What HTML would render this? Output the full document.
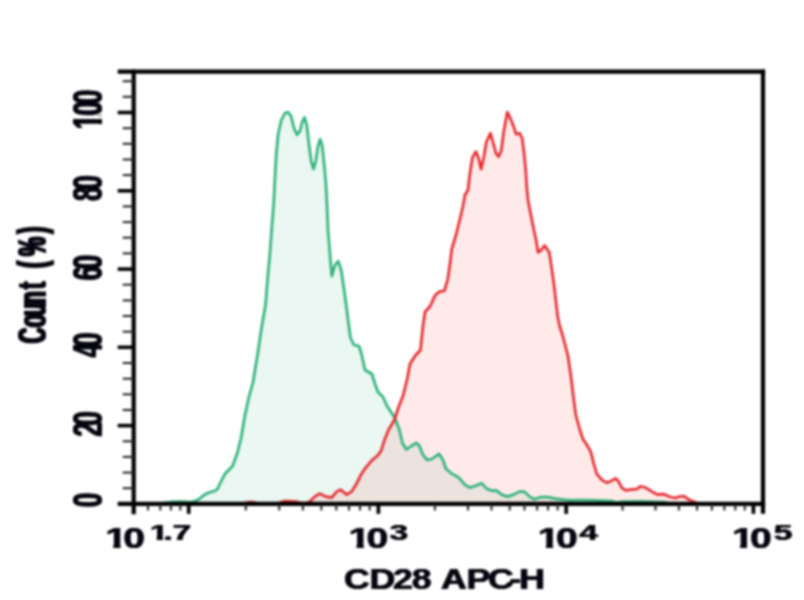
<!DOCTYPE html>
<html lang="en"><head><meta charset="utf-8"><title>CD28 APC-H histogram</title>
<style>
html,body{margin:0;padding:0;background:#fff;}
body{width:804px;height:600px;overflow:hidden;font-family:"Liberation Sans",sans-serif;}
svg{display:block;filter:blur(0.9px)}
text{font-family:"Liberation Sans",sans-serif;font-weight:bold;fill:#05050f;font-kerning:none;}
</style></head><body>
<svg width="804" height="600" viewBox="0 0 804 600">
<rect width="804" height="600" fill="#ffffff"/>

<defs><clipPath id="gclip"><path d="M160.0,503.9 L160.0,503.6 L165.0,502.8 L172.0,501.8 L182.0,501.6 L188.0,502.0 L192.4,501.8 L196.2,500.6 L200.0,498.5 L203.0,495.8 L206.1,493.7 L210.0,492.2 L213.8,491.3 L217.3,489.3 L220.0,483.5 L225.0,473.8 L232.5,466.2 L237.5,452.5 L241.2,437.5 L245.0,415.0 L248.8,397.5 L253.0,382.5 L256.2,362.5 L257.5,355.0 L261.2,330.0 L265.5,305.0 L267.5,280.0 L269.8,255.0 L271.6,230.0 L273.6,205.0 L274.6,185.0 L276.2,155.0 L278.2,134.0 L281.2,120.5 L285.0,113.0 L288.0,112.2 L291.0,116.0 L294.0,128.0 L297.0,134.8 L300.0,131.0 L302.2,122.0 L304.5,117.5 L306.8,125.0 L309.0,144.5 L311.2,161.0 L313.5,169.2 L315.8,161.0 L318.0,146.0 L320.2,139.2 L322.2,146.0 L324.0,162.5 L325.5,179.0 L326.0,185.0 L327.0,205.0 L328.0,230.0 L330.0,255.0 L331.8,276.2 L335.0,265.0 L338.2,261.2 L341.2,270.0 L343.8,287.5 L346.2,305.0 L348.5,323.0 L350.5,338.0 L354.0,345.0 L359.0,346.0 L361.5,354.0 L365.0,370.0 L372.0,374.0 L375.0,384.0 L378.0,392.0 L383.0,397.0 L387.0,406.0 L395.0,418.0 L399.4,430.0 L402.4,443.0 L406.4,449.5 L411.3,446.0 L416.3,443.0 L419.5,446.0 L422.5,454.0 L427.0,459.8 L432.0,459.0 L438.9,453.8 L442.9,459.8 L445.9,468.8 L451.8,473.7 L458.8,477.7 L464.8,484.7 L469.8,487.7 L475.7,485.7 L481.7,483.3 L486.7,488.7 L491.6,490.6 L496.6,490.6 L501.6,494.6 L507.6,496.6 L513.5,494.6 L519.5,491.6 L524.5,491.6 L529.5,496.6 L534.4,499.2 L540.4,497.2 L547.4,497.2 L555.3,498.6 L563.3,499.6 L571.2,500.4 L579.2,500.0 L595.0,500.3 L612.0,501.0 L616.0,502.6 L622.0,501.6 L640.0,501.4 L665.0,502.2 L670.0,503.6 L670.0,503.9 Z"/></clipPath><clipPath id="c10"><path clip-rule="evenodd" d="M-60,-80H600V40H-60Z M-9,-4.04H6.29V4H-9Z M11.29,-4.04H14.17L16.37,-1.5L17.67,4H11.29Z"/></clipPath><clipPath id="c17"><path clip-rule="evenodd" d="M-60,-80H600V40H-60Z M-9,-2.99H4.55V4H-9Z M8.47,-2.99H9.90V4H8.47Z"/></clipPath><clipPath id="c100"><path clip-rule="evenodd" d="M-60,-80H600V40H-60Z M-9,-5.85H8.91V4H-9Z M16.53,-5.85H22.68V4H16.53Z"/></clipPath></defs>
<path d="M160.0,503.9 L160.0,503.6 L165.0,502.8 L172.0,501.8 L182.0,501.6 L188.0,502.0 L192.4,501.8 L196.2,500.6 L200.0,498.5 L203.0,495.8 L206.1,493.7 L210.0,492.2 L213.8,491.3 L217.3,489.3 L220.0,483.5 L225.0,473.8 L232.5,466.2 L237.5,452.5 L241.2,437.5 L245.0,415.0 L248.8,397.5 L253.0,382.5 L256.2,362.5 L257.5,355.0 L261.2,330.0 L265.5,305.0 L267.5,280.0 L269.8,255.0 L271.6,230.0 L273.6,205.0 L274.6,185.0 L276.2,155.0 L278.2,134.0 L281.2,120.5 L285.0,113.0 L288.0,112.2 L291.0,116.0 L294.0,128.0 L297.0,134.8 L300.0,131.0 L302.2,122.0 L304.5,117.5 L306.8,125.0 L309.0,144.5 L311.2,161.0 L313.5,169.2 L315.8,161.0 L318.0,146.0 L320.2,139.2 L322.2,146.0 L324.0,162.5 L325.5,179.0 L326.0,185.0 L327.0,205.0 L328.0,230.0 L330.0,255.0 L331.8,276.2 L335.0,265.0 L338.2,261.2 L341.2,270.0 L343.8,287.5 L346.2,305.0 L348.5,323.0 L350.5,338.0 L354.0,345.0 L359.0,346.0 L361.5,354.0 L365.0,370.0 L372.0,374.0 L375.0,384.0 L378.0,392.0 L383.0,397.0 L387.0,406.0 L395.0,418.0 L399.4,430.0 L402.4,443.0 L406.4,449.5 L411.3,446.0 L416.3,443.0 L419.5,446.0 L422.5,454.0 L427.0,459.8 L432.0,459.0 L438.9,453.8 L442.9,459.8 L445.9,468.8 L451.8,473.7 L458.8,477.7 L464.8,484.7 L469.8,487.7 L475.7,485.7 L481.7,483.3 L486.7,488.7 L491.6,490.6 L496.6,490.6 L501.6,494.6 L507.6,496.6 L513.5,494.6 L519.5,491.6 L524.5,491.6 L529.5,496.6 L534.4,499.2 L540.4,497.2 L547.4,497.2 L555.3,498.6 L563.3,499.6 L571.2,500.4 L579.2,500.0 L595.0,500.3 L612.0,501.0 L616.0,502.6 L622.0,501.6 L640.0,501.4 L665.0,502.2 L670.0,503.6 L670.0,503.9 Z" fill="#2fb57c" fill-opacity="0.10"/>
<path d="M243.0,503.9 L243.0,503.6 L246.0,502.8 L249.0,502.0 L253.0,502.1 L256.0,503.0 L258.0,503.6 L277.0,503.6 L280.0,502.6 L285.0,501.1 L291.0,501.3 L297.0,501.9 L301.0,503.2 L305.0,503.2 L309.0,502.3 L314.8,496.6 L319.8,493.6 L325.8,496.6 L331.7,497.6 L336.7,491.6 L340.7,489.7 L346.7,494.6 L351.6,491.6 L356.6,483.7 L361.6,473.7 L365.6,467.8 L371.5,460.8 L378.5,454.8 L381.5,449.9 L384.5,439.9 L388.5,430.0 L394.4,420.0 L399.0,406.0 L403.0,396.0 L407.0,380.0 L410.0,364.0 L415.0,356.0 L420.5,350.0 L421.5,340.0 L423.0,326.0 L425.0,312.0 L430.3,306.0 L435.0,295.6 L439.6,291.4 L444.3,291.0 L447.8,279.3 L450.1,263.0 L451.8,249.0 L456.0,235.0 L459.5,221.0 L463.0,206.0 L465.0,195.0 L468.0,190.0 L469.7,175.2 L472.4,157.7 L475.9,151.6 L478.5,157.7 L481.1,169.1 L483.7,157.7 L486.4,142.0 L490.4,133.2 L493.4,143.7 L496.0,153.4 L498.6,156.8 L501.2,150.7 L503.8,131.5 L507.3,112.2 L510.8,119.2 L513.5,126.2 L516.1,134.1 L519.6,133.2 L522.2,138.5 L524.0,152.5 L525.7,170.0 L526.8,187.5 L528.0,200.0 L530.3,212.0 L533.0,225.7 L536.0,239.7 L538.1,252.5 L541.1,250.1 L544.6,245.5 L549.3,252.5 L551.6,267.6 L553.9,284.0 L555.8,300.3 L557.7,316.6 L559.5,325.5 L562.5,335.0 L567.9,355.5 L571.0,377.0 L573.3,396.0 L575.8,415.0 L579.9,430.0 L582.9,439.0 L586.9,444.9 L590.8,451.9 L593.8,463.8 L596.8,473.8 L601.8,479.8 L606.8,482.7 L611.7,480.7 L615.7,478.4 L618.7,481.7 L621.7,487.7 L625.7,490.3 L630.6,489.7 L636.6,489.1 L640.6,486.3 L645.6,487.7 L651.5,491.3 L657.5,494.7 L663.5,494.1 L669.5,496.7 L675.4,498.0 L680.4,496.3 L684.4,496.3 L688.4,499.3 L693.3,501.6 L697.0,503.0 L699.0,503.6 L699.0,503.9 Z" fill="#ff5a5a" fill-opacity="0.13"/>
<polyline points="160.0,503.6 165.0,502.8 172.0,501.8 182.0,501.6 188.0,502.0 192.4,501.8 196.2,500.6 200.0,498.5 203.0,495.8 206.1,493.7 210.0,492.2 213.8,491.3 217.3,489.3 220.0,483.5 225.0,473.8 232.5,466.2 237.5,452.5 241.2,437.5 245.0,415.0 248.8,397.5 253.0,382.5 256.2,362.5 257.5,355.0 261.2,330.0 265.5,305.0 267.5,280.0 269.8,255.0 271.6,230.0 273.6,205.0 274.6,185.0 276.2,155.0 278.2,134.0 281.2,120.5 285.0,113.0 288.0,112.2 291.0,116.0 294.0,128.0 297.0,134.8 300.0,131.0 302.2,122.0 304.5,117.5 306.8,125.0 309.0,144.5 311.2,161.0 313.5,169.2 315.8,161.0 318.0,146.0 320.2,139.2 322.2,146.0 324.0,162.5 325.5,179.0 326.0,185.0 327.0,205.0 328.0,230.0 330.0,255.0 331.8,276.2 335.0,265.0 338.2,261.2 341.2,270.0 343.8,287.5 346.2,305.0 348.5,323.0 350.5,338.0 354.0,345.0 359.0,346.0 361.5,354.0 365.0,370.0 372.0,374.0 375.0,384.0 378.0,392.0 383.0,397.0 387.0,406.0 395.0,418.0 399.4,430.0 402.4,443.0 406.4,449.5 411.3,446.0 416.3,443.0 419.5,446.0 422.5,454.0 427.0,459.8 432.0,459.0 438.9,453.8 442.9,459.8 445.9,468.8 451.8,473.7 458.8,477.7 464.8,484.7 469.8,487.7 475.7,485.7 481.7,483.3 486.7,488.7 491.6,490.6 496.6,490.6 501.6,494.6 507.6,496.6 513.5,494.6 519.5,491.6 524.5,491.6 529.5,496.6 534.4,499.2 540.4,497.2 547.4,497.2 555.3,498.6 563.3,499.6 571.2,500.4 579.2,500.0 595.0,500.3 612.0,501.0 616.0,502.6 622.0,501.6 640.0,501.4 665.0,502.2 670.0,503.6" fill="none" stroke="#30b27a" stroke-width="2.7" stroke-linejoin="round" stroke-linecap="round"/>
<polyline points="243.0,503.6 246.0,502.8 249.0,502.0 253.0,502.1 256.0,503.0 258.0,503.6 277.0,503.6 280.0,502.6 285.0,501.1 291.0,501.3 297.0,501.9 301.0,503.2 305.0,503.2 309.0,502.3 314.8,496.6 319.8,493.6 325.8,496.6 331.7,497.6 336.7,491.6 340.7,489.7 346.7,494.6 351.6,491.6 356.6,483.7 361.6,473.7 365.6,467.8 371.5,460.8 378.5,454.8 381.5,449.9 384.5,439.9 388.5,430.0 394.4,420.0 399.0,406.0 403.0,396.0 407.0,380.0 410.0,364.0 415.0,356.0 420.5,350.0 421.5,340.0 423.0,326.0 425.0,312.0 430.3,306.0 435.0,295.6 439.6,291.4 444.3,291.0 447.8,279.3 450.1,263.0 451.8,249.0 456.0,235.0 459.5,221.0 463.0,206.0 465.0,195.0 468.0,190.0 469.7,175.2 472.4,157.7 475.9,151.6 478.5,157.7 481.1,169.1 483.7,157.7 486.4,142.0 490.4,133.2 493.4,143.7 496.0,153.4 498.6,156.8 501.2,150.7 503.8,131.5 507.3,112.2 510.8,119.2 513.5,126.2 516.1,134.1 519.6,133.2 522.2,138.5 524.0,152.5 525.7,170.0 526.8,187.5 528.0,200.0 530.3,212.0 533.0,225.7 536.0,239.7 538.1,252.5 541.1,250.1 544.6,245.5 549.3,252.5 551.6,267.6 553.9,284.0 555.8,300.3 557.7,316.6 559.5,325.5 562.5,335.0 567.9,355.5 571.0,377.0 573.3,396.0 575.8,415.0 579.9,430.0 582.9,439.0 586.9,444.9 590.8,451.9 593.8,463.8 596.8,473.8 601.8,479.8 606.8,482.7 611.7,480.7 615.7,478.4 618.7,481.7 621.7,487.7 625.7,490.3 630.6,489.7 636.6,489.1 640.6,486.3 645.6,487.7 651.5,491.3 657.5,494.7 663.5,494.1 669.5,496.7 675.4,498.0 680.4,496.3 684.4,496.3 688.4,499.3 693.3,501.6 697.0,503.0 699.0,503.6" fill="none" stroke="#e62c30" stroke-width="2.7" stroke-linejoin="round" stroke-linecap="round"/>
<g stroke="#000" fill="none">
<path d="M117.7,71.6 H765.1" stroke-width="4.2"/>
<path d="M763.0,69.5 V513.7" stroke-width="4.2"/>
<path d="M133.7,69.5 V514.3" stroke-width="4.2"/>
<path d="M117.7,503.9 H765.1" stroke-width="4.2"/>
<path d="M122.7,488.2 H133.7" stroke-width="2.0" stroke="#222"/>
<path d="M122.7,472.6 H133.7" stroke-width="2.0" stroke="#222"/>
<path d="M122.7,456.9 H133.7" stroke-width="2.0" stroke="#222"/>
<path d="M122.7,441.3 H133.7" stroke-width="2.0" stroke="#222"/>
<path d="M117.7,425.6 H133.7" stroke-width="3.6"/>
<path d="M122.7,410.0 H133.7" stroke-width="2.0" stroke="#222"/>
<path d="M122.7,394.3 H133.7" stroke-width="2.0" stroke="#222"/>
<path d="M122.7,378.7 H133.7" stroke-width="2.0" stroke="#222"/>
<path d="M122.7,363.0 H133.7" stroke-width="2.0" stroke="#222"/>
<path d="M117.7,347.3 H133.7" stroke-width="3.6"/>
<path d="M122.7,331.7 H133.7" stroke-width="2.0" stroke="#222"/>
<path d="M122.7,316.0 H133.7" stroke-width="2.0" stroke="#222"/>
<path d="M122.7,300.4 H133.7" stroke-width="2.0" stroke="#222"/>
<path d="M122.7,284.7 H133.7" stroke-width="2.0" stroke="#222"/>
<path d="M117.7,269.1 H133.7" stroke-width="3.6"/>
<path d="M122.7,253.4 H133.7" stroke-width="2.0" stroke="#222"/>
<path d="M122.7,237.7 H133.7" stroke-width="2.0" stroke="#222"/>
<path d="M122.7,222.1 H133.7" stroke-width="2.0" stroke="#222"/>
<path d="M122.7,206.4 H133.7" stroke-width="2.0" stroke="#222"/>
<path d="M117.7,190.8 H133.7" stroke-width="3.6"/>
<path d="M122.7,175.1 H133.7" stroke-width="2.0" stroke="#222"/>
<path d="M122.7,159.5 H133.7" stroke-width="2.0" stroke="#222"/>
<path d="M122.7,143.8 H133.7" stroke-width="2.0" stroke="#222"/>
<path d="M122.7,128.2 H133.7" stroke-width="2.0" stroke="#222"/>
<path d="M117.7,112.5 H133.7" stroke-width="3.6"/>
<path d="M122.7,96.8 H133.7" stroke-width="2.0" stroke="#222"/>
<path d="M122.7,81.2 H133.7" stroke-width="2.0" stroke="#222"/>
<path d="M148.0,503.9 V510.5" stroke-width="2.0" stroke="#222"/>
<path d="M160.3,503.9 V510.5" stroke-width="2.0" stroke="#222"/>
<path d="M170.9,503.9 V510.5" stroke-width="2.0" stroke="#222"/>
<path d="M180.3,503.9 V510.5" stroke-width="2.0" stroke="#222"/>
<path d="M188.7,503.9 V513.9" stroke-width="3.6"/>
<path d="M245.8,503.9 V510.5" stroke-width="2.0" stroke="#222"/>
<path d="M279.2,503.9 V510.5" stroke-width="2.0" stroke="#222"/>
<path d="M302.9,503.9 V510.5" stroke-width="2.0" stroke="#222"/>
<path d="M321.3,503.9 V510.5" stroke-width="2.0" stroke="#222"/>
<path d="M336.3,503.9 V510.5" stroke-width="2.0" stroke="#222"/>
<path d="M349.0,503.9 V510.5" stroke-width="2.0" stroke="#222"/>
<path d="M360.0,503.9 V510.5" stroke-width="2.0" stroke="#222"/>
<path d="M369.7,503.9 V510.5" stroke-width="2.0" stroke="#222"/>
<path d="M378.4,503.9 V513.9" stroke-width="3.6"/>
<path d="M434.9,503.9 V510.5" stroke-width="2.0" stroke="#222"/>
<path d="M468.0,503.9 V510.5" stroke-width="2.0" stroke="#222"/>
<path d="M491.5,503.9 V510.5" stroke-width="2.0" stroke="#222"/>
<path d="M509.7,503.9 V510.5" stroke-width="2.0" stroke="#222"/>
<path d="M524.5,503.9 V510.5" stroke-width="2.0" stroke="#222"/>
<path d="M537.1,503.9 V510.5" stroke-width="2.0" stroke="#222"/>
<path d="M548.0,503.9 V510.5" stroke-width="2.0" stroke="#222"/>
<path d="M557.6,503.9 V510.5" stroke-width="2.0" stroke="#222"/>
<path d="M566.2,503.9 V513.9" stroke-width="3.6"/>
<path d="M622.6,503.9 V510.5" stroke-width="2.0" stroke="#222"/>
<path d="M655.5,503.9 V510.5" stroke-width="2.0" stroke="#222"/>
<path d="M678.9,503.9 V510.5" stroke-width="2.0" stroke="#222"/>
<path d="M697.0,503.9 V510.5" stroke-width="2.0" stroke="#222"/>
<path d="M711.9,503.9 V510.5" stroke-width="2.0" stroke="#222"/>
<path d="M724.4,503.9 V510.5" stroke-width="2.0" stroke="#222"/>
<path d="M735.3,503.9 V510.5" stroke-width="2.0" stroke="#222"/>
<path d="M744.8,503.9 V510.5" stroke-width="2.0" stroke="#222"/>
<path d="M753.4,503.9 V513.9" stroke-width="3.6"/>
</g>
<text clip-path="url(#c10)" transform="translate(105.2,547.7) scale(1.335,1)" font-size="29.3" letter-spacing="-2.74" style="text-shadow:0.45px 0 0 #05050f,-0.45px 0 0 #05050f">10</text><text clip-path="url(#c17)" dx="0 -3.19 -0.26" transform="translate(149.8,539.9) scale(1.55,1)" font-size="21.7" style="text-shadow:0.4px 0 0 #05050f,-0.4px 0 0 #05050f">1.7</text>
<text clip-path="url(#c10)" transform="translate(348.4,547.7) scale(1.335,1)" font-size="29.3" letter-spacing="-2.74" style="text-shadow:0.45px 0 0 #05050f,-0.45px 0 0 #05050f">10</text><text  transform="translate(389.5,539.9) scale(1.55,1)" font-size="21.7" style="text-shadow:0.4px 0 0 #05050f,-0.4px 0 0 #05050f">3</text>
<text clip-path="url(#c10)" transform="translate(537.8,547.7) scale(1.335,1)" font-size="29.3" letter-spacing="-2.74" style="text-shadow:0.45px 0 0 #05050f,-0.45px 0 0 #05050f">10</text><text  transform="translate(579.3,539.9) scale(1.55,1)" font-size="21.7" style="text-shadow:0.4px 0 0 #05050f,-0.4px 0 0 #05050f">4</text>
<text clip-path="url(#c10)" transform="translate(731.9,547.7) scale(1.335,1)" font-size="29.3" letter-spacing="-2.74" style="text-shadow:0.45px 0 0 #05050f,-0.45px 0 0 #05050f">10</text><text  transform="translate(773.8,539.9) scale(1.55,1)" font-size="21.7" style="text-shadow:0.4px 0 0 #05050f,-0.4px 0 0 #05050f">5</text>
<text transform="translate(343.0,588.6) scale(1.22,1)" font-size="29.3" dx="0.79 -0.28 -1.79 -0.92 0.00 -0.59 -0.21 -1.86 -3.78 -1.67" style="text-shadow:0.5px 0 0 #05050f,-0.5px 0 0 #05050f">CD28 APC-H</text>
<text clip-path="url(#c100)" transform="translate(101.7,129.2) rotate(-90) scale(0.605,1)" font-size="42.4" dx="0.00 -0.94 -4.66" style="text-shadow:0.9px 0 0 #05050f,-0.9px 0 0 #05050f">100</text>
<text  transform="translate(101.7,200.9) rotate(-90) scale(0.605,1)" font-size="42.4" dx="-0.00 -4.95" style="text-shadow:0.9px 0 0 #05050f,-0.9px 0 0 #05050f">80</text>
<text  transform="translate(101.7,280.4) rotate(-90) scale(0.605,1)" font-size="42.4" dx="-0.00 -5.15" style="text-shadow:0.9px 0 0 #05050f,-0.9px 0 0 #05050f">60</text>
<text  transform="translate(101.7,357.3) rotate(-90) scale(0.605,1)" font-size="42.4" dx="0.00 -6.26" style="text-shadow:0.9px 0 0 #05050f,-0.9px 0 0 #05050f">40</text>
<text  transform="translate(101.7,436.7) rotate(-90) scale(0.605,1)" font-size="42.4" dx="0.00 -5.30" style="text-shadow:0.9px 0 0 #05050f,-0.9px 0 0 #05050f">20</text>
<text  transform="translate(101.7,507.1) rotate(-90) scale(0.605,1)" font-size="42.4" dx="-0.00" style="text-shadow:0.9px 0 0 #05050f,-0.9px 0 0 #05050f">0</text>
<text transform="translate(46.1,344.0) rotate(-90) scale(0.52,1)" font-size="41.4" dx="1.42 0.96 -3.46 -3.00 4.17 0.00 14.82 9.60 5.89" style="text-shadow:1.5px 0 0 #05050f,-1.5px 0 0 #05050f">Count (%)</text>
</svg></body></html>
